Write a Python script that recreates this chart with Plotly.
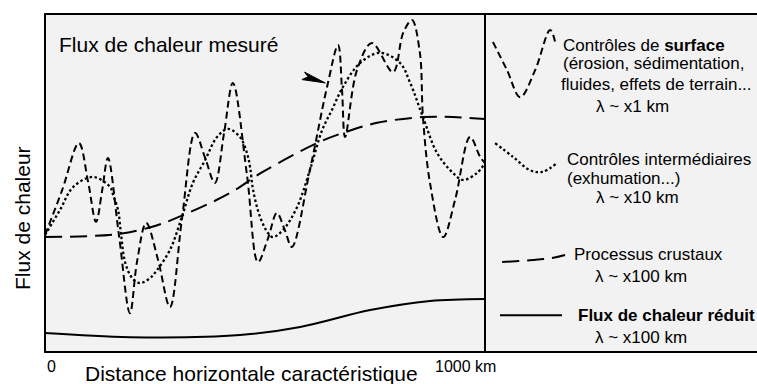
import plotly.graph_objects as go

# ---- measured heat flow (surface controls, short wavelength) ----
measured_km = [0, 39, 77, 98, 116, 130, 143, 168, 193, 209, 230, 257, 284, 311, 341, 364,
               386, 407, 427, 459, 484, 507, 527, 545, 561, 602, 641, 666, 675, 682, 709,
               743, 791, 814, 834, 852, 859, 875, 905, 932, 966, 989, 1000]
measured_q = [34.6, 47.9, 61.8, 50.3, 38.5, 47.9, 57.4, 34.6, 11.5, 26.6, 38.2, 27.2, 13.3,
              39.1, 64.8, 57.4, 50.0, 64.8, 79.6, 52.4, 26.6, 33.7, 41.1, 36.1, 31.1, 53.8,
              78.4, 90.8, 77.5, 63.6, 83.4, 91.4, 82.8, 94.4, 98.2, 88.5, 69.5, 50.0, 34.0,
              45.0, 63.6, 57.7, 55.9]

# ---- intermediate controls (exhumation) ----
inter_km = [0, 34, 64, 109, 148, 155, 166, 173, 182, 198, 216, 239, 255, 284, 311, 336, 364,
            391, 416, 443, 459, 466, 473, 489, 507, 518, 541, 573, 602, 630, 652, 677, 716,
            761, 807, 830, 859, 891, 927, 950, 982, 1000]
inter_q = [34.6, 42.0, 48.8, 51.8, 48.8, 46.4, 42.0, 34.6, 26.6, 21.9, 20.4, 21.9, 24.3, 30.2,
           39.9, 50.0, 56.8, 63.6, 66.0, 63.6, 58.9, 54.7, 47.9, 39.9, 35.2, 34.0, 36.1, 42.9,
           53.8, 65.7, 71.6, 78.4, 85.5, 88.5, 85.5, 79.6, 69.5, 58.9, 53.0, 50.9, 53.0, 55.9]

# ---- crustal processes (long wavelength) ----
crust_km = [0, 166, 250, 314, 420, 495, 618, 677, 755, 859, 927, 1000]
crust_q = [34.0, 34.9, 37.3, 40.5, 47.0, 53.3, 61.8, 64.8, 67.8, 69.5, 69.5, 68.9]

# ---- reduced heat flow ----
reduced_km = [0, 193, 443, 580, 739, 875, 1000]
reduced_q = [5.6, 4.4, 5.0, 7.4, 12.4, 15.1, 15.7]

# ---- key samples drawn in the right-hand panel ----
key_surface_km = [1018, 1050, 1080, 1114, 1148, 1161]
key_surface_q = [91.7, 83.4, 75.4, 83.4, 95.3, 90.8]
key_inter_km = [1023, 1064, 1102, 1130, 1164]
key_inter_q = [61.8, 57.7, 53.8, 53.3, 55.9]
key_crust_km = [1039, 1109, 1152, 1182]
key_crust_q = [26.6, 27.2, 27.8, 28.7]
key_reduced_km = [1034, 1175]
key_reduced_q = [10.9, 10.9]

W, H = 757, 384
FONT = "Liberation Sans, Arial, sans-serif"
SHORT = "7px,4px"
DOTS = "2.5px,2.5px"
LONG = "17px,8px"


def pos(px, py):
    """pixel position -> paper coordinates"""
    return px / W, 1 - py / H


fig = go.Figure()


def curve(x, y, dash, width=2):
    fig.add_trace(go.Scatter(
        x=x, y=y, mode="lines",
        line=dict(color="black", width=width, dash=dash, shape="spline", smoothing=1.0),
        hoverinfo="skip", showlegend=False))


curve(reduced_km, reduced_q, "solid")
curve(crust_km, crust_q, LONG)
curve(inter_km, inter_q, DOTS, width=2.3)
curve(measured_km, measured_q, SHORT)

curve(key_surface_km, key_surface_q, SHORT)
curve(key_inter_km, key_inter_q, DOTS, width=2.3)
curve(key_crust_km, key_crust_q, LONG)
curve(key_reduced_km, key_reduced_q, "solid")

# panel background and frame
shapes = [
    dict(type="rect", xref="x", yref="y", x0=0, x1=1700, y0=0, y1=100,
         fillcolor="#f2f2f2", line=dict(width=0), layer="below"),
    dict(type="line", xref="x", yref="y", x0=0, x1=0, y0=0, y1=100,
         line=dict(color="black", width=2), layer="above"),
    dict(type="line", xref="x", yref="y", x0=-2, x1=1700, y0=100, y1=100,
         line=dict(color="black", width=2), layer="above"),
    dict(type="line", xref="x", yref="y", x0=-2, x1=1700, y0=0, y1=0,
         line=dict(color="black", width=2), layer="above"),
    dict(type="line", xref="x", yref="y", x0=1000, x1=1000, y0=0, y1=100,
         line=dict(color="black", width=2), layer="above"),
    # pointer arrowhead
    dict(type="path", xref="x", yref="y",
         path="M 637,79.6 L 590,82.8 L 598,81.4 L 584,80.6 Z",
         fillcolor="black", line=dict(color="black", width=1), layer="above"),
]

annotations = []


def text(px, py, s, size, xanchor="left", angle=0):
    x, y = pos(px, py)
    annotations.append(dict(
        x=x, y=y, xref="paper", yref="paper", text=s, showarrow=False,
        xanchor=xanchor, yanchor="middle", textangle=angle,
        font=dict(family=FONT, size=size, color="black")))


text(57, 44, "Flux de chaleur mesuré", 21)
text(22, 218, "Flux de chaleur", 21, xanchor="center", angle=-90)
text(51, 366, "0", 16, xanchor="center")
text(433, 366, "1000 km", 16)
text(83, 373, "Distance horizontale caractéristique", 21)

LEG = 17
text(561, 45, "Contrôles de <b>surface</b>", LEG)
text(561, 64, "(érosion, sédimentation,", LEG)
text(559, 84, "fluides, effets de terrain...", LEG)
text(632, 106, "λ ~ x1 km", LEG, xanchor="center")
text(565, 159, "Contrôles intermédiaires", LEG)
text(565, 178, "(exhumation...)", LEG)
text(637, 197, "λ ~ x10 km", LEG, xanchor="center")
text(572, 254, "Processus crustaux", LEG)
text(641, 276, "λ ~ x100 km", LEG, xanchor="center")
text(576, 315, "<b>Flux de chaleur réduit</b>", LEG)
text(641, 337, "λ ~ x100 km", LEG, xanchor="center")

fig.update_layout(
    width=W, height=H,
    margin=dict(l=0, r=0, t=0, b=0),
    paper_bgcolor="white", plot_bgcolor="white",
    xaxis=dict(range=[-45 / 0.44, (W - 45) / 0.44], visible=False, fixedrange=True),
    yaxis=dict(range=[(352 - H) / 3.38, 352 / 3.38], visible=False, fixedrange=True),
    shapes=shapes, annotations=annotations,
    showlegend=False,
)

fig.write_html("out.html")
